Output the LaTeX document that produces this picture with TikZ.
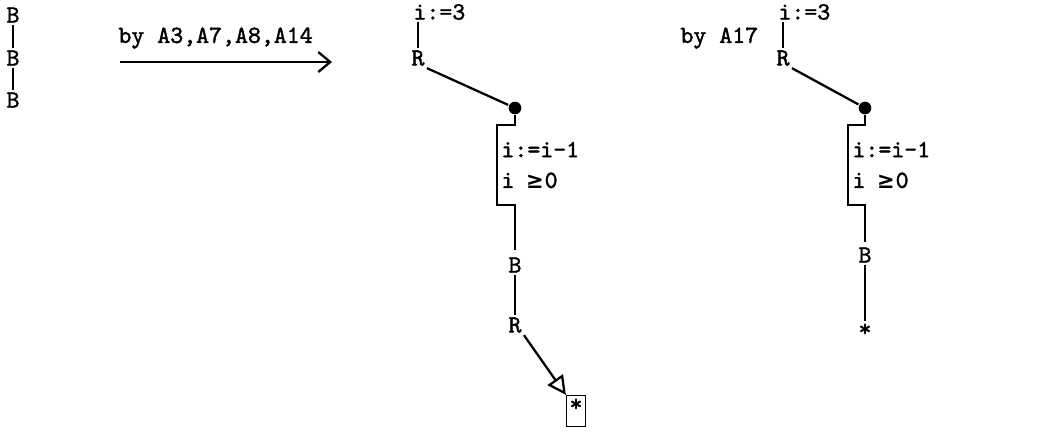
\documentclass[tikz,border=0pt]{standalone}
\usepackage{fontspec}
\newfontfamily\tw{lmmono10-regular}[Extension=.otf,FakeBold=1.6]
\newfontfamily\twsym{DejaVu Sans Mono}[FakeBold=0.8]
\usetikzlibrary{arrows.meta}

\begin{document}
\begin{tikzpicture}[x=0.75pt,y=-0.75pt,line width=1.7pt,
  txt/.style={inner sep=1pt,font=\fontsize{18.5}{23}\tw},
  dot/.style={circle,fill,inner sep=0pt,minimum size=9.5pt},
  star/.style={txt,draw,line width=1.2pt,inner sep=0pt,minimum width=14pt,
    minimum height=23pt,text depth=9pt}]

\useasboundingbox (0,0) rectangle (1045,433);

%left tree
\node[txt] (b1) at (13,15) {B};
\node[txt] (b2) at (13,58) {B};
\node[txt] (b3) at (13,100) {B};
\draw (b1) -- (b2);
\draw (b2) -- (b3);

%first rewriting
\node[txt,anchor=west] (by1) at (116,38) {by A3,A7,A8,A14};
\coordinate (a1) at (120,62);
\coordinate (a2) at (332,62);
\draw[-{Straight Barb[length=9pt,width=15pt]}] (a1) -- (a2);

%middle tree
\node[txt,anchor=west] (i1) at (411,12) {i:=3};
\node[txt] (r1) at (418,58) {R};
\node[dot] (d1) at (515,108) {};
\draw (r1 |- i1.south) -- (r1);
\draw (r1.south east) -- (d1);
\draw (d1) |- (497,125) |- (515,205) -- (515,250);
\node[txt,anchor=west,align=left] (c1) at (499,165) {i:=i-1\\i {\twsym ≥}\hspace{0.1em}0};
\node[txt] (b4) at (515,265) {B};
\node[txt] (r2) at (515,325) {R};
\node[star] (s1) at (576,411) {*};
\draw (b4) -- (r2);
\draw[-{Triangle[open,length=14pt,width=14pt]}] (r2.south east) -- (s1.north west);

%second rewriting
\node[txt,anchor=west] (by2) at (678,38) {by A17};

%right tree
\node[txt,anchor=west] (i2) at (776,12) {i:=3};
\node[txt] (r3) at (783,58) {R};
\node[dot] (d2) at (865,108) {};
\draw (r3 |- i2.south) -- (r3);
\draw (r3.south east) -- (d2);
\draw (d2) |- (848,125) |- (865,205) -- (865,242);
\node[txt,anchor=west,align=left] (c2) at (850,165) {i:=i-1\\i {\twsym ≥}\hspace{0.1em}0};
\node[txt] (b5) at (865,255) {B};
\node[txt] (s2) at (865,330) {*};
\draw (b5) -- (s2);

\end{tikzpicture}
\end{document}
